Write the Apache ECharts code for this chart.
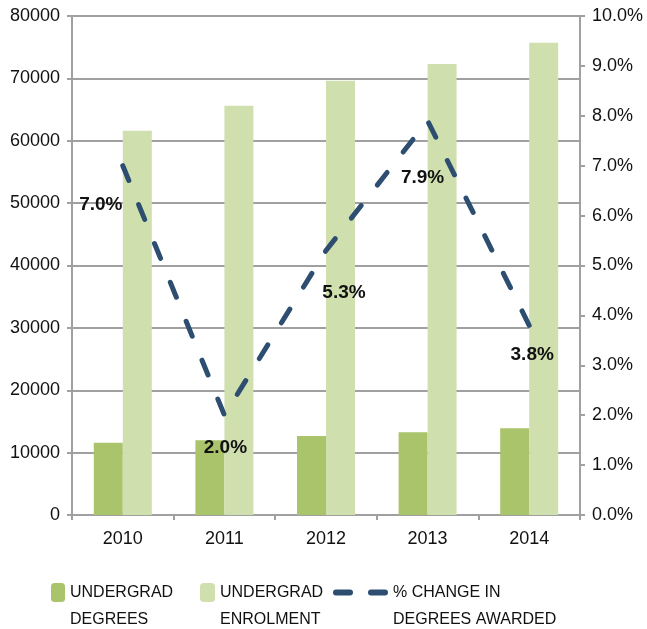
<!DOCTYPE html>
<html>
<head>
<meta charset="utf-8">
<script src="https://cdn.jsdelivr.net/npm/echarts@6/dist/echarts.min.js"></script>
<style>
  html, body { margin: 0; padding: 0; background: #fff; }
  #main { width: 647px; height: 629px; }
</style>
</head>
<body>
<div id="main"></div>
<script>
// chart data
var years = ['2010', '2011', '2012', '2013', '2014'];
var degrees = [11600, 12000, 12650, 13250, 13900];
var enrolment = [61600, 65600, 69600, 72300, 75700];
var pctChange = [7.0, 2.0, 5.3, 7.9, 3.8];
var leftTicks = { min: 0, max: 80000, step: 10000 };
var rightTicks = { min: 0, max: 10, step: 1 };

// label nudges (px) so the % labels sit like the original
var labelNudge = [[-22, 39], [1, 33], [18, 42], [-5, 57], [3, 29]];

var font = "'Liberation Sans', Arial, sans-serif";
var gray = '#a0a0a0';

var chart = echarts.init(document.getElementById('main'));

var lineData = pctChange.map(function (v, i) {
  return { value: v, label: { offset: labelNudge[i] } };
});

function legendBox(name, left, w) {
  return {
    data: [name],
    left: left,
    top: 552,
    padding: 0,
    itemWidth: w,
    itemHeight: 19,
    itemGap: 0,
    selectedMode: false,
    // blank first line so the icon lines up with the first text row
    formatter: function (n) { return '\n' + n; },
    textStyle: {
      fontFamily: font,
      fontSize: 16,
      lineHeight: 27,
      color: '#111'
    }
  };
}

var option = {
  animation: false,
  grid: { left: 72, right: 67, top: 16, bottom: 114, outerBoundsMode: 'none' },
  legend: [
    legendBox('UNDERGRAD\nDEGREES', 51, 14),
    legendBox('UNDERGRAD\nENROLMENT', 200, 15),
    Object.assign(legendBox('% CHANGE IN\nDEGREES AWARDED', 333, 52), {
      lineStyle: { type: [14, 21], width: 6, cap: 'round' },
      itemStyle: { color: 'transparent', borderColor: 'transparent' }
    })
  ],
  xAxis: {
    type: 'category',
    data: years,
    axisLine: { lineStyle: { color: gray, width: 2 } },
    axisTick: { show: true, length: 5, lineStyle: { color: gray, width: 2 } },
    axisLabel: { color: '#111', fontSize: 18, fontFamily: font, margin: 15 }
  },
  yAxis: [
    {
      type: 'value',
      min: leftTicks.min,
      max: leftTicks.max,
      interval: leftTicks.step,
      axisLine: { show: true, lineStyle: { color: gray, width: 2 } },
      axisTick: { show: true, length: 5, lineStyle: { color: gray, width: 2 } },
      splitLine: { lineStyle: { color: gray, width: 2 } },
      axisLabel: {
        color: '#111', fontSize: 18, fontFamily: font, margin: 12,
        formatter: function (v) { return String(v); }
      }
    },
    {
      type: 'value',
      position: 'right',
      min: rightTicks.min,
      max: rightTicks.max,
      interval: rightTicks.step,
      axisLine: { show: true, lineStyle: { color: gray, width: 2 } },
      axisTick: { show: true, length: 5, lineStyle: { color: gray, width: 2 } },
      splitLine: { show: false },
      axisLabel: {
        color: '#111', fontSize: 18, fontFamily: font, margin: 12,
        formatter: function (v) { return v.toFixed(1) + '%'; }
      }
    }
  ],
  series: [
    {
      name: 'UNDERGRAD\nDEGREES',
      type: 'bar',
      data: degrees,
      barWidth: 29,
      barGap: '0%',
      itemStyle: { color: '#aac46b' }
    },
    {
      name: 'UNDERGRAD\nENROLMENT',
      type: 'bar',
      data: enrolment,
      barWidth: 29,
      barGap: '0%',
      itemStyle: { color: '#cfdfae' }
    },
    {
      name: '% CHANGE IN\nDEGREES AWARDED',
      type: 'line',
      yAxisIndex: 1,
      data: lineData,
      symbol: 'circle',
      symbolSize: 0.1,
      z: 5,
      itemStyle: { color: '#2d4e70' },
      lineStyle: { color: '#2d4e70', width: 5, type: [16, 26], cap: 'round' },
      label: {
        show: true,
        position: 'inside',
        color: '#111',
        fontFamily: font,
        fontWeight: 'bold',
        fontSize: 19,
        formatter: function (p) { return p.value.toFixed(1) + '%'; }
      }
    }
  ]
};

chart.setOption(option);
</script>
</body>
</html>
